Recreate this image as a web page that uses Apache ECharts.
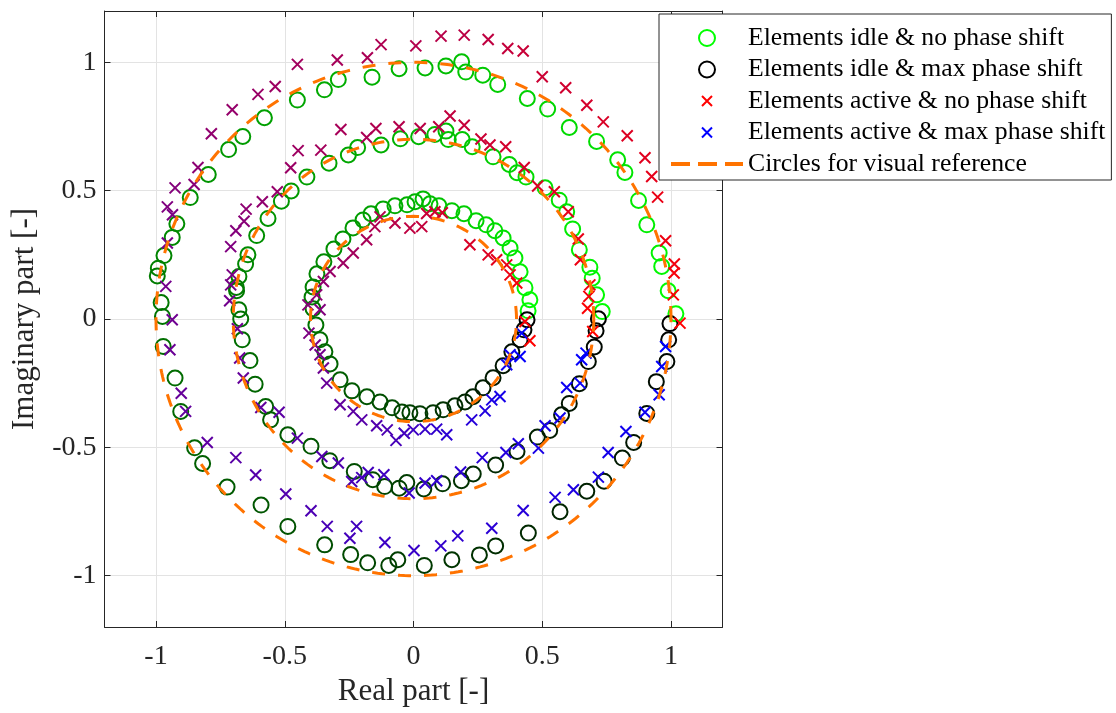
<!DOCTYPE html>
<html>
<head>
<meta charset="utf-8">
<script src="https://cdn.jsdelivr.net/npm/echarts@6/dist/echarts.min.js"></script>
<style>
  html, body { margin: 0; padding: 0; background: #ffffff; }
  #chart { width: 1116px; height: 713px; }
</style>
</head>
<body>
<div id="chart"></div>
<script>
// Reflection coefficients (real, imaginary), ordered by phase-shift step.
// Idle elements (circles), one array per amplitude ring.
const idleOuter = [
  [1.019,0.020],[0.989,0.110],[0.964,0.205],[0.954,0.257],[0.906,0.367],[0.874,0.462],
  [0.821,0.571],[0.793,0.620],[0.711,0.692],[0.605,0.746],[0.521,0.818],[0.442,0.859],
  [0.327,0.914],[0.269,0.950],[0.203,0.962],[0.187,1.002],[0.126,0.986],[0.045,0.978],
  [-0.056,0.975],[-0.161,0.942],[-0.292,0.933],[-0.346,0.893],[-0.451,0.853],[-0.579,0.784],
  [-0.663,0.711],[-0.718,0.660],[-0.797,0.563],[-0.867,0.473],[-0.919,0.371],[-0.937,0.318],
  [-0.969,0.247],[-0.991,0.198],[-0.995,0.168],[-0.980,0.064],[-0.975,0.010],[-0.972,-0.107],
  [-0.926,-0.230],[-0.904,-0.360],[-0.850,-0.502],[-0.819,-0.563],[-0.724,-0.655],[-0.592,-0.725],
  [-0.488,-0.808],[-0.345,-0.880],[-0.244,-0.918],[-0.178,-0.950],[-0.096,-0.960],[-0.061,-0.938],
  [0.042,-0.960],[0.149,-0.938],[0.256,-0.919],[0.319,-0.884],[0.446,-0.834],[0.569,-0.751],
  [0.673,-0.671],[0.740,-0.632],[0.811,-0.542],[0.855,-0.481],[0.906,-0.368],[0.943,-0.244],
  [0.984,-0.166],[0.991,-0.081],[0.996,-0.018]
];
const idleMiddle = [
  [0.733,0.029],[0.711,0.094],[0.694,0.159],[0.685,0.202],[0.644,0.270],[0.618,0.351],
  [0.595,0.418],[0.566,0.463],[0.511,0.511],[0.437,0.553],[0.402,0.570],[0.372,0.602],
  [0.309,0.632],[0.228,0.671],[0.189,0.699],[0.135,0.699],[0.126,0.732],[0.083,0.719],
  [0.020,0.710],[-0.051,0.702],[-0.126,0.678],[-0.217,0.668],[-0.253,0.639],[-0.328,0.607],
  [-0.414,0.553],[-0.475,0.499],[-0.513,0.459],[-0.565,0.392],[-0.609,0.325],[-0.643,0.250],
  [-0.652,0.214],[-0.678,0.166],[-0.688,0.123],[-0.687,0.110],[-0.678,0.036],[-0.671,0.000],
  [-0.665,-0.081],[-0.635,-0.162],[-0.615,-0.254],[-0.574,-0.341],[-0.555,-0.393],[-0.488,-0.451],
  [-0.398,-0.496],[-0.325,-0.552],[-0.230,-0.594],[-0.158,-0.626],[-0.112,-0.653],[-0.056,-0.659],
  [-0.026,-0.637],[0.040,-0.662],[0.113,-0.642],[0.186,-0.630],[0.232,-0.604],[0.319,-0.569],
  [0.402,-0.516],[0.481,-0.460],[0.529,-0.434],[0.575,-0.373],[0.605,-0.329],[0.644,-0.252],
  [0.679,-0.166],[0.702,-0.109],[0.709,-0.046],[0.718,0.001]
];
const idleInner = [
  [0.445,0.032],[0.452,0.075],[0.433,0.122],[0.414,0.184],[0.394,0.238],[0.375,0.277],
  [0.348,0.316],[0.316,0.344],[0.282,0.367],[0.243,0.383],[0.196,0.410],[0.149,0.422],
  [0.099,0.441],[0.064,0.449],[0.037,0.468],[0.006,0.457],[-0.025,0.445],[-0.072,0.441],
  [-0.118,0.429],[-0.165,0.410],[-0.196,0.386],[-0.235,0.355],[-0.274,0.312],[-0.309,0.273],
  [-0.348,0.223],[-0.375,0.176],[-0.390,0.125],[-0.394,0.086],[-0.390,0.040],[-0.379,-0.023],
  [-0.363,-0.081],[-0.344,-0.128],[-0.324,-0.175],[-0.285,-0.237],[-0.239,-0.280],[-0.181,-0.303],
  [-0.130,-0.323],[-0.083,-0.346],[-0.045,-0.362],[-0.014,-0.365],[0.025,-0.369],[0.076,-0.365],
  [0.115,-0.354],[0.161,-0.338],[0.200,-0.323],[0.231,-0.303],[0.270,-0.268],[0.309,-0.229],
  [0.348,-0.182],[0.382,-0.128],[0.414,-0.081],[0.429,-0.042],[0.441,-0.003]
];

// Active elements (crosses), one array per amplitude ring.
const activeOuter = [
  [1.035,-0.016],[1.009,0.094],[1.012,0.179],[1.013,0.214],[0.979,0.305],[0.948,0.475],
  [0.925,0.555],[0.899,0.628],[0.830,0.714],[0.737,0.768],[0.673,0.833],[0.591,0.901],
  [0.500,0.944],[0.426,1.044],[0.366,1.054],[0.290,1.089],[0.197,1.106],[0.107,1.102],
  [0.009,1.064],[-0.126,1.069],[-0.179,1.018],[-0.296,1.009],[-0.451,0.992],[-0.537,0.906],
  [-0.604,0.875],[-0.704,0.815],[-0.785,0.722],[-0.837,0.590],[-0.852,0.524],[-0.926,0.511],
  [-0.956,0.437],[-0.936,0.406],[-0.956,0.296],[-0.962,0.127],[-0.937,-0.003],[-0.946,-0.120],
  [-0.902,-0.289],[-0.885,-0.360],[-0.801,-0.481],[-0.690,-0.540],[-0.613,-0.608],[-0.496,-0.682],
  [-0.398,-0.747],[-0.335,-0.808],[-0.247,-0.854],[-0.221,-0.808],[-0.111,-0.871],[0.002,-0.902],
  [0.106,-0.884],[0.172,-0.845],[0.304,-0.815],[0.426,-0.746],[0.550,-0.695],[0.621,-0.665],
  [0.718,-0.616],[0.756,-0.520],[0.825,-0.438],[0.899,-0.363],[0.954,-0.295],[0.964,-0.185],
  [0.979,-0.107]
];
const activeMiddle = [
  [0.696,-0.049],[0.676,0.042],[0.681,0.088],[0.685,0.133],[0.648,0.231],[0.640,0.312],
  [0.601,0.418],[0.547,0.496],[0.482,0.518],[0.430,0.590],[0.358,0.671],[0.297,0.678],
  [0.262,0.701],[0.197,0.755],[0.142,0.791],[0.098,0.749],[0.026,0.742],[-0.056,0.749],
  [-0.146,0.742],[-0.182,0.707],[-0.282,0.738],[-0.360,0.658],[-0.448,0.656],[-0.477,0.589],
  [-0.529,0.496],[-0.587,0.457],[-0.650,0.428],[-0.658,0.381],[-0.690,0.344],[-0.710,0.282],
  [-0.704,0.172],[-0.710,0.133],[-0.714,0.071],[-0.684,-0.038],[-0.675,-0.152],[-0.661,-0.230],
  [-0.593,-0.345],[-0.522,-0.363],[-0.451,-0.464],[-0.356,-0.536],[-0.292,-0.561],[-0.240,-0.633],
  [-0.201,-0.618],[-0.176,-0.598],[-0.115,-0.607],[-0.017,-0.678],[0.045,-0.639],[0.090,-0.630],
  [0.183,-0.596],[0.267,-0.540],[0.359,-0.520],[0.407,-0.486],[0.485,-0.503],[0.511,-0.416],
  [0.569,-0.386],[0.595,-0.267],[0.647,-0.250],[0.653,-0.159],[0.670,-0.133]
];
const activeInner = [
  [0.452,-0.085],[0.433,-0.010],[0.401,0.140],[0.375,0.172],[0.362,0.211],[0.323,0.231],
  [0.290,0.250],[0.219,0.289],[0.112,0.414],[0.083,0.418],[0.051,0.411],[0.032,0.360],
  [-0.014,0.354],[-0.072,0.374],[-0.130,0.398],[-0.150,0.360],[-0.182,0.309],[-0.234,0.257],
  [-0.273,0.218],[-0.324,0.185],[-0.350,0.146],[-0.376,0.094],[-0.410,0.055],[-0.363,0.036],
  [-0.406,-0.055],[-0.382,-0.101],[-0.363,-0.139],[-0.350,-0.191],[-0.337,-0.250],[-0.285,-0.334],
  [-0.234,-0.360],[-0.201,-0.393],[-0.143,-0.416],[-0.102,-0.432],[-0.068,-0.473],[-0.036,-0.445],
  [-0.001,-0.432],[0.045,-0.429],[0.090,-0.429],[0.129,-0.451],[0.226,-0.393],[0.278,-0.358],
  [0.304,-0.315],[0.336,-0.302],[0.362,-0.178],[0.375,-0.139],[0.414,-0.146],[0.420,-0.055]
];

// Radii of the dashed reference circles.
const referenceRadii = [0.4, 0.7, 1.0];

// Axis tick values.
const tickValues = [-1, -0.5, 0, 0.5, 1];

const seriesNames = [
  'Elements idle & no phase shift',
  'Elements idle & max phase shift',
  'Elements active & no phase shift',
  'Elements active & max phase shift',
  'Circles for visual reference'
];

// ---- colours and symbols ----
const GREEN = [0, 255, 0], BLACK = [0, 0, 0], RED = [255, 0, 0], BLUE = [0, 0, 255];
const ORANGE = '#ff7300';
const INK = '#262626';
const SERIF = "'Liberation Serif', 'Times New Roman', serif";
const CROSS = 'path://M0,0L10,10M10,0L0,10';
const CROSS_LEGEND = 'path://M-3,-3M0,0L10,10M10,0L0,10M13,13';

function mix(a, b, t) {
  return 'rgb(' + a.map((v, i) => Math.round(v + (b[i] - v) * t)).join(',') + ')';
}

// Split each ring along its phase steps: the first half goes to the
// "no phase shift" series, the rest to "max phase shift"; the marker colour
// blends between the two end colours with the step index.
function splitRings(rings, c0, c1) {
  const low = [], high = [];
  rings.forEach(ring => {
    const n = ring.length;
    ring.forEach((p, i) => {
      const t = i / (n - 1);
      const item = { value: p, itemStyle: { borderColor: mix(c0, c1, t) } };
      (t <= 0.5 ? low : high).push(item);
    });
  });
  return [low, high];
}

const [idleLow, idleHigh] = splitRings([idleOuter, idleMiddle, idleInner], GREEN, BLACK);
const [actLow, actHigh] = splitRings([activeOuter, activeMiddle, activeInner], RED, BLUE);

function circleSeries(name, data, legendColor) {
  return {
    name, type: 'scatter', data, z: 2,
    symbol: 'circle', symbolSize: 15,
    itemStyle: { color: 'rgba(0,0,0,0)', borderColor: legendColor, borderWidth: 2, opacity: 1 },
    emphasis: { disabled: true }, animation: false
  };
}
function crossSeries(name, data, legendColor) {
  return {
    name, type: 'scatter', data, z: 3,
    symbol: CROSS, symbolSize: 11,
    itemStyle: { color: 'rgba(0,0,0,0)', borderColor: legendColor, borderWidth: 2, opacity: 1 },
    emphasis: { disabled: true }, animation: false
  };
}

// Dashed reference circles, traced through the axes at one-degree steps.
const refSeries = referenceRadii.map(r => {
  const pts = [];
  for (let d = 0; d <= 360; d += 1) {
    const a = d * Math.PI / 180;
    pts.push([r * Math.cos(a), r * Math.sin(a)]);
  }
  return {
    name: seriesNames[4], type: 'line', data: pts, z: 4,
    showSymbol: false, symbol: 'none', smooth: false,
    lineStyle: { color: ORANGE, width: 3, type: [13, 13] },
    itemStyle: { color: ORANGE },
    emphasis: { disabled: true }, animation: false, silent: true
  };
});

const axisCommon = {
  type: 'value', min: -1.2, max: 1.2, splitNumber: 5,
  axisLine: { show: true, onZero: false, lineStyle: { color: INK, width: 1 } },
  axisTick: { show: true, inside: true, length: 6, customValues: tickValues,
              lineStyle: { color: INK, width: 1 } },
  splitLine: { show: false },
  axisLabel: { show: false }
};

const chart = echarts.init(document.getElementById('chart'), null, { renderer: 'canvas' });
chart.setOption({
  animation: false,
  backgroundColor: '#ffffff',
  grid: { left: 104.5, right: 393.5, top: 11, bottom: 86, containLabel: false },
  xAxis: [
    Object.assign({}, axisCommon, {
      position: 'bottom',
      name: 'Real part [-]', nameLocation: 'middle', nameGap: 49,
      nameTextStyle: { fontFamily: SERIF, fontSize: 31, color: INK },
      splitLine: { show: true, lineStyle: { color: '#e3e3e3', width: 1 } },
      axisLabel: { show: true, customValues: tickValues, margin: 16,
                   fontFamily: SERIF, fontSize: 28, color: INK }
    }),
    Object.assign({}, axisCommon, { position: 'top' })
  ],
  yAxis: [
    Object.assign({}, axisCommon, {
      position: 'left',
      name: 'Imaginary part [-]', nameLocation: 'middle', nameGap: 64,
      nameTextStyle: { fontFamily: SERIF, fontSize: 31, color: INK },
      splitLine: { show: true, lineStyle: { color: '#e3e3e3', width: 1 } },
      axisLabel: { show: true, customValues: tickValues, margin: 8,
                   fontFamily: SERIF, fontSize: 28, color: INK }
    }),
    Object.assign({}, axisCommon, { position: 'right' })
  ],
  legend: {
    show: true, orient: 'vertical', left: 659, top: 14,
    padding: [11, 6, 3, 10], itemGap: 5.5, itemWidth: 72, itemHeight: 16, itemTextGap: 5,
    backgroundColor: '#ffffff', borderColor: INK, borderWidth: 1, borderRadius: 0,
    selectedMode: false,
    textStyle: { fontFamily: SERIF, fontSize: 25.7, color: '#000000', lineHeight: 26 },
    data: [
      { name: seriesNames[0], icon: 'circle',
        itemStyle: { color: 'rgba(0,0,0,0)', borderColor: mix(GREEN, BLACK, 0), borderWidth: 2 } },
      { name: seriesNames[1], icon: 'circle',
        itemStyle: { color: 'rgba(0,0,0,0)', borderColor: mix(GREEN, BLACK, 1), borderWidth: 2 } },
      { name: seriesNames[2], icon: CROSS_LEGEND,
        itemStyle: { color: 'rgba(0,0,0,0)', borderColor: mix(RED, BLUE, 0), borderWidth: 2 } },
      { name: seriesNames[3], icon: CROSS_LEGEND,
        itemStyle: { color: 'rgba(0,0,0,0)', borderColor: mix(RED, BLUE, 1), borderWidth: 2 } },
      { name: seriesNames[4],
        itemStyle: { color: 'rgba(0,0,0,0)', borderColor: 'rgba(0,0,0,0)', borderWidth: 0, opacity: 0 },
        lineStyle: { color: ORANGE, width: 4, type: [19, 8] } }
    ]
  },
  series: [
    circleSeries(seriesNames[0], idleLow, mix(GREEN, BLACK, 0)),
    circleSeries(seriesNames[1], idleHigh, mix(GREEN, BLACK, 1)),
    crossSeries(seriesNames[2], actLow, mix(RED, BLUE, 0)),
    crossSeries(seriesNames[3], actHigh, mix(RED, BLUE, 1))
  ].concat(refSeries)
});
</script>
</body>
</html>
